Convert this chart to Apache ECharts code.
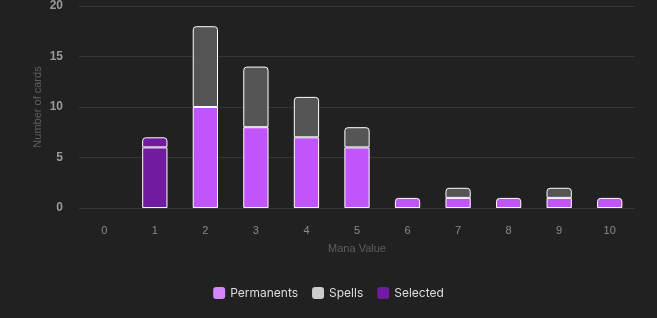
<!DOCTYPE html>
<html>
<head>
<meta charset="utf-8">
<script src="https://cdn.jsdelivr.net/npm/echarts@6/dist/echarts.min.js"></script>
<style>
  html, body { margin: 0; padding: 0; background: #212121; }
  #chart { width: 657px; height: 318px; }
</style>
</head>
<body>
<div id="chart"></div>
<script>
const manaValues = ['0', '1', '2', '3', '4', '5', '6', '7', '8', '9', '10']
const permanents = [0, 6, 10, 8, 7, 6, 1, 1, 1, 1, 1]
const spells = [0, 1, 8, 6, 4, 2, 0, 1, 0, 1, 0]
const selectedIndex = 1
const yTicks = [0, 5, 10, 15, 20]

const permColor = '#c254fc'
const spellColor = '#555555'
const selectedColor = '#711ca0'

// top segment of each stack gets the rounded corners, empty ones are skipped
function buildItems (values, isTop) {
  return values.map((v, i) => {
    if (!v) return '-'
    let style = {}
    if (i === selectedIndex) style.color = selectedColor
    if (isTop(i)) style.borderRadius = [3, 3, 0, 0]
    return { value: v, itemStyle: style }
  })
}

const permItems = buildItems(permanents, i => spells[i] === 0)
const spellItems = buildItems(spells, i => spells[i] > 0)

const chart = echarts.init(document.getElementById('chart'))
chart.setOption({
  backgroundColor: '#212121',
  animation: false,
  grid: { left: 79, right: 22, top: 3, bottom: 110 },
  legend: {
    bottom: 14,
    left: 'center',
    itemWidth: 12,
    itemHeight: 12,
    itemGap: 14,
    itemTextGap: 4,
    icon: 'roundRect',
    textStyle: { color: '#dddddd', fontSize: 12, fontFamily: 'Inter' },
    data: [
      { name: 'Permanents', itemStyle: { color: '#d487fa', borderWidth: 0 } },
      { name: 'Spells', itemStyle: { color: '#cccccc', borderWidth: 0 } },
      { name: 'Selected', itemStyle: { color: selectedColor, borderWidth: 0 } }
    ]
  },
  xAxis: {
    type: 'category',
    data: manaValues,
    name: 'Mana Value',
    nameLocation: 'middle',
    nameGap: 35,
    nameMoveOverlap: false,
    nameTextStyle: { color: '#5e5e5e', fontSize: 11 },
    axisLine: { show: false },
    axisTick: { show: false },
    axisLabel: { color: '#8a8a8a', fontSize: 11, margin: 17 }
  },
  yAxis: {
    type: 'value',
    min: yTicks[0],
    max: yTicks[yTicks.length - 1],
    interval: 5,
    name: 'Number of cards',
    nameLocation: 'middle',
    nameGap: 36,
    nameMoveOverlap: false,
    nameTextStyle: { color: '#5e5e5e', fontSize: 11 },
    axisLabel: { color: '#9a9a9a', fontSize: 12, fontWeight: 'bold', margin: 16 },
    splitLine: { lineStyle: { color: '#363636' } }
  },
  series: [
    {
      name: 'Permanents',
      type: 'bar',
      stack: 'cards',
      barWidth: '50%',
      data: permItems,
      itemStyle: { color: permColor, borderColor: '#ffffff', borderWidth: 1 }
    },
    {
      name: 'Spells',
      type: 'bar',
      stack: 'cards',
      barWidth: '50%',
      data: spellItems,
      itemStyle: { color: spellColor, borderColor: '#ffffff', borderWidth: 1 }
    },
    {
      name: 'Selected',
      type: 'bar',
      stack: 'cards',
      data: [],
      itemStyle: { color: selectedColor }
    }
  ]
})
</script>
</body>
</html>
